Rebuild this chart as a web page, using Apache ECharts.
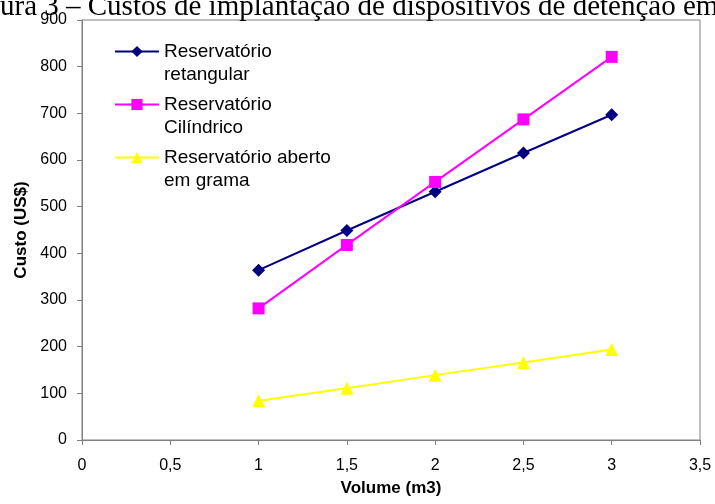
<!DOCTYPE html>
<html><head><meta charset="utf-8">
<script src="https://cdn.jsdelivr.net/npm/echarts@6/dist/echarts.min.js"></script>
<style>html,body{margin:0;padding:0;background:#fff}#c{width:715px;height:504px}</style>
</head><body><div id="c"></div>
<script>
const titleText = 'ura 3 – Custos de implantação de dispositivos de detenção em';
const volumes = [1, 1.5, 2, 2.5, 3];
const retangular = [364, 449, 532, 615, 697];
const cilindrico = [282, 418, 553, 687, 821];
const grama = [84, 111, 139, 166, 194];
const seriesNames = ['Reservatório\nretangular', 'Reservatório\nCilíndrico', 'Reservatório aberto\nem grama'];
const xAxisName = 'Volume (m3)';
const yAxisName = 'Custo (US$)';

const pairs = arr => volumes.map((v, i) => [v, arr[i]]);
const L = 23;
const chart = echarts.init(document.getElementById('c'));
chart.setOption({
  animation: false,
  title: { text: titleText, left: 0, top: -7, padding: 0,
    textStyle: { fontFamily: 'Liberation Serif', fontWeight: 'normal', fontSize: 29, color: '#000' } },
  grid: { left: 82, right: 15, top: 20, bottom: 64, show: true, borderColor: '#808080', borderWidth: 1 },
  legend: {
    orient: 'vertical', left: 114, top: 17, padding: 0, itemGap: -16,
    itemWidth: 44, itemHeight: 14,
    formatter: name => '\n' + name,
    textStyle: { fontFamily: 'Liberation Sans', fontSize: 19, color: '#000', lineHeight: L },
    data: seriesNames
  },
  xAxis: {
    type: 'value', min: 0, max: 3.5, interval: 0.5,
    name: xAxisName, nameLocation: 'middle', nameGap: 40,
    nameTextStyle: { fontFamily: 'Liberation Sans', fontWeight: 'bold', fontSize: 17, color: '#000' },
    axisLine: { lineStyle: { color: '#808080' } },
    axisTick: { show: true, length: 5, lineStyle: { color: '#808080' } },
    splitLine: { show: false },
    axisLabel: { fontFamily: 'Liberation Sans', fontSize: 16, color: '#000', margin: 18,
      formatter: v => String(v).replace('.', ',') }
  },
  yAxis: {
    type: 'value', min: 0, max: 900, interval: 100,
    name: yAxisName, nameLocation: 'middle', nameGap: 51, nameRotate: 90,
    nameTextStyle: { fontFamily: 'Liberation Sans', fontWeight: 'bold', fontSize: 17, color: '#000' },
    axisLine: { show: true, lineStyle: { color: '#808080' } },
    axisTick: { show: true, length: 5, lineStyle: { color: '#808080' } },
    splitLine: { show: false },
    axisLabel: { fontFamily: 'Liberation Sans', fontSize: 16, color: '#000', margin: 15 }
  },
  series: [
    { name: seriesNames[0], type: 'line', data: pairs(retangular), symbol: 'diamond', symbolSize: 13,
      itemStyle: { color: '#000080' }, lineStyle: { color: '#000080', width: 2 } },
    { name: seriesNames[1], type: 'line', data: pairs(cilindrico), symbol: 'rect', symbolSize: 12,
      itemStyle: { color: '#FF00FF' }, lineStyle: { color: '#FF00FF', width: 2 } },
    { name: seriesNames[2], type: 'line', data: pairs(grama), symbol: 'triangle', symbolSize: 13,
      itemStyle: { color: '#FFFF00' }, lineStyle: { color: '#FFFF00', width: 2 } }
  ]
});
</script></body></html>
